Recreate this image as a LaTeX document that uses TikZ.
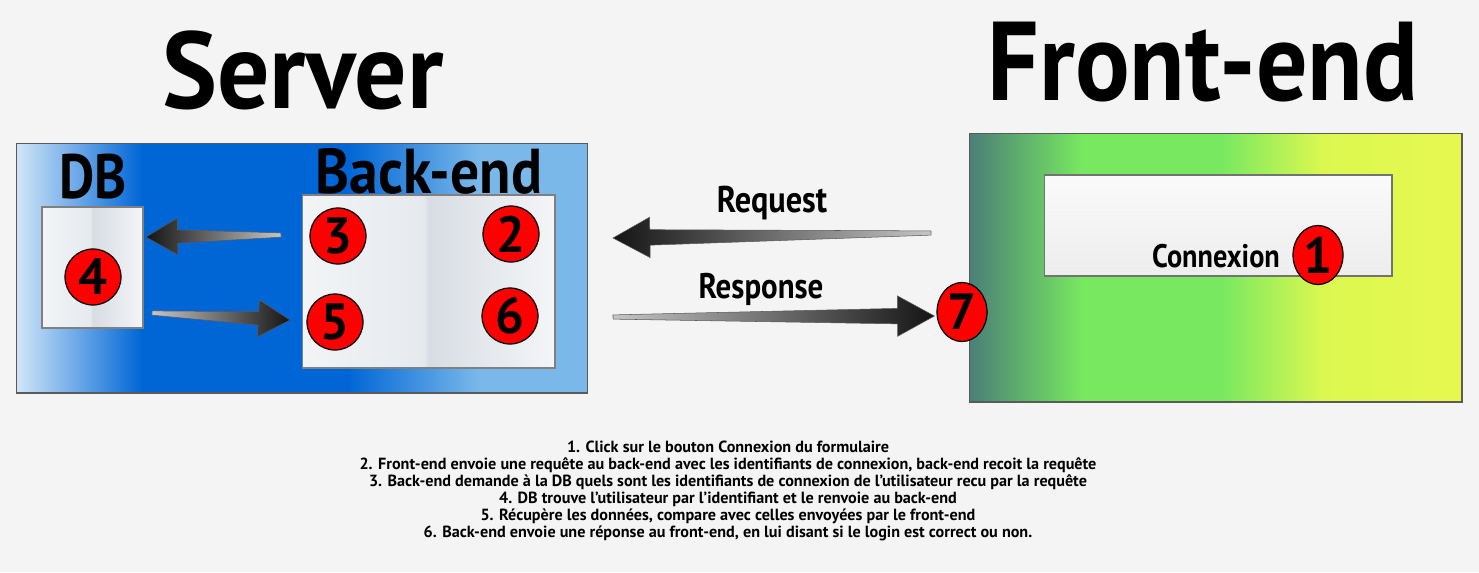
\documentclass[tikz,border=0pt]{standalone}
\usepackage{fontspec}
\setmainfont{PT Sans}
\usepackage{graphicx}
\usetikzlibrary{calc,shapes.geometric}

\definecolor{bgcol}{HTML}{F4F4F4}
\definecolor{srvA}{HTML}{D2E6F8}
\definecolor{srvB}{HTML}{0066D6}
\definecolor{srvC}{HTML}{7AB8EA}
\definecolor{feA}{HTML}{4A7F78}
\definecolor{feB}{HTML}{78E860}
\definecolor{feC}{HTML}{DCF850}
\definecolor{feD}{HTML}{E6F850}
\definecolor{pgA}{HTML}{F2F4F6}
\definecolor{pgB}{HTML}{E6EAEE}
\definecolor{pgC}{HTML}{D8DDE3}
\definecolor{pgD}{HTML}{F4F5F7}
\definecolor{boxline}{HTML}{5A5A5A}

\pgfdeclarehorizontalshading{serverfill}{100bp}{color(0bp)=(srvA); color(25bp)=(srvA); color(36bp)=(srvB); color(54bp)=(srvB); color(65.5bp)=(srvC); color(75bp)=(srvC); color(100bp)=(srvC)}
\pgfdeclarehorizontalshading{frontfill}{100bp}{color(0bp)=(feA); color(25bp)=(feA); color(36.5bp)=(feB); color(50.5bp)=(feB); color(61bp)=(feC); color(75bp)=(feD); color(100bp)=(feD)}
\pgfdeclarehorizontalshading{pagefill}{100bp}{color(0bp)=(pgA); color(25bp)=(pgA); color(49bp)=(pgB); color(50bp)=(pgC); color(75bp)=(pgD); color(100bp)=(pgD)}

\newcommand\hand[3][1.15]{\scalebox{1}[#1]{\fontsize{#2}{#2}\selectfont\bfseries #3}}
% tapered arrow: tail, head, neck half width, head half width, head length, shading
\newcommand\taperarrow[6]{%
  \coordinate (neck) at ($(#2)!#5!(#1)$);
  \path[draw=black!65, line width=.3pt, #6] ($(#1)!1.2pt!90:(#2)$) -- ($(neck)!#3!-90:(#1)$) -- ($(neck)!#4!-90:(#1)$) -- (#2) -- ($(neck)!#4!90:(#1)$) -- ($(neck)!#3!90:(#1)$) -- ($(#1)!1.2pt!-90:(#2)$) -- cycle;}

\begin{document}
\begin{tikzpicture}[x=0.02cm, y=-0.02cm,
  numdot/.style={circle, draw=black, line width=.7pt, fill=red, minimum size=1.12cm, inner sep=0pt, font=\fontsize{29}{29}\selectfont\bfseries},
  numegg/.style={numdot, ellipse, minimum width=1.0cm, minimum height=1.18cm},
  panel/.style={draw=boxline, line width=.6pt, inner sep=0pt},
  toright/.style={left color=gray!45, right color=black!92},
  toleft/.style={left color=black!92, right color=gray!45}]
\useasboundingbox (0,0) rectangle (1479,572);
\fill[bgcol] (0,0) rectangle (1479,572);

% titles
\node[anchor=base, inner sep=0pt] (tsrv) at (303,108) {\hand[1.05]{59}{Server}};
\node[anchor=base, inner sep=0pt] (tfe) at (1203,100) {\hand[1.1]{58}{Front-end}};

% server side
\node[panel, shading=serverfill, minimum width=11.44cm, minimum height=5cm] (srv) at (302,268) {};
\node[panel, draw=black!50, shading=pagefill, minimum width=2.02cm, minimum height=2.42cm] (db) at (92.5,267.5) {};
\node[panel, draw=black!50, shading=pagefill, minimum width=5.06cm, minimum height=3.46cm] (be) at (428.5,281.5) {};
\node[anchor=base, inner sep=0pt] (tdb) at (93,198) {\hand{31}{DB}};
\node[anchor=base, inner sep=0pt] (tbe) at (429,193) {\hand[1.1]{32.8}{Back-end}};

% front side
\node[panel, shading=frontfill, minimum width=9.86cm, minimum height=5.38cm] (fe) at (1215.5,267.5) {};
\node[panel, draw=black!55, top color=white!98!black, bottom color=black!7, minimum width=6.96cm, minimum height=2.02cm] (form) at (1218,225.5) {};
\node[anchor=base, inner sep=0pt] (conn) at (1216,267) {\hand{16.1}{Connexion}};

% steps
\node[numdot] (n3) at (338,236) {3};
\node[numdot] (n2) at (511,234) {2};
\node[numdot] (n5) at (335,322) {5};
\node[numdot] (n6) at (510,316) {6};
\node[numdot] (n4) at (93,277) {4};
\node[numegg] (n1) at (1318,255) {1};
\node[numegg] (n7) at (962,312) {7};

% arrows
\coordinate (t34) at (281,235);
\coordinate (h34) at (146,237);
\coordinate (t45) at (152,313);
\coordinate (h45) at (290,320);
\coordinate (treq) at (931,233);
\coordinate (hreq) at (613,238);
\coordinate (tresp) at (613,317);
\coordinate (hresp) at ($(n7.west)+(-2,4)$);
\taperarrow{t34}{h34}{3.8pt}{10.5pt}{18pt}{toleft}
\taperarrow{t45}{h45}{3.8pt}{10.5pt}{18pt}{toright}
\taperarrow{treq}{hreq}{4.4pt}{11.5pt}{21pt}{toleft}
\taperarrow{tresp}{hresp}{4.4pt}{11.5pt}{21pt}{toright}
\node[anchor=base, inner sep=0pt] (req) at (772,212) {\hand{18.4}{Request}};
\node[anchor=base, inner sep=0pt] (resp) at (761,298) {\hand{17.6}{Response}};

% legend
\node[anchor=north, inner sep=0pt, align=center, font=\fontsize{9.2}{9.64}\selectfont\bfseries] (legend) at (728,441) {1. Click sur le bouton Connexion du formulaire\\
2. Front-end envoie une requête au back-end avec les identifiants de connexion, back-end recoit la requête\\
3. Back-end demande à la DB quels sont les identifiants de connexion de l'utilisateur recu par la requête\\
4. DB trouve l'utilisateur par l'identifiant et le renvoie au back-end\\
5. Récupère les données, compare avec celles envoyées par le front-end\\
6. Back-end envoie une réponse au front-end, en lui disant si le login est correct ou non.};
\end{tikzpicture}
\end{document}
